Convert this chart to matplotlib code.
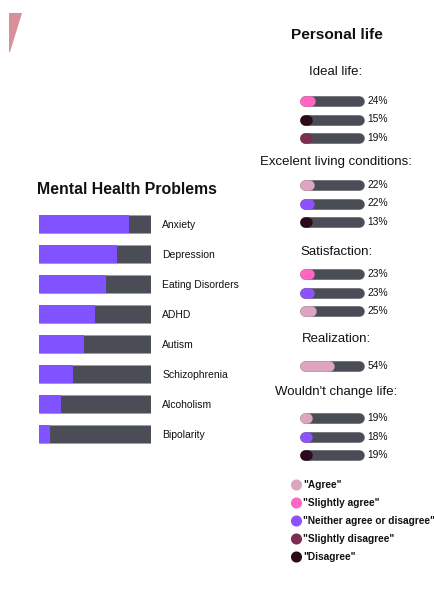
import matplotlib
matplotlib.use("Agg")
import matplotlib.pyplot as plt
from matplotlib.patches import Polygon

plt.rcParams["font.family"] = ["Liberation Sans", "DejaVu Sans"]

W, H = 435, 592

# ---- data ----
problems = ["Anxiety", "Depression", "Eating Disorders", "ADHD", "Autism",
            "Schizophrenia", "Alcoholism", "Bipolarity"]
problem_share = [80, 70, 60, 50, 40, 30, 20, 10]

answers = ['"Agree"', '"Slightly agree"', '"Neither agree or disagree"',
           '"Slightly disagree"', '"Disagree"']
answer_colors = ["#dea5c0", "#ff66c4", "#8c52ff", "#7b2d52", "#2d0a19"]

groups = ["Ideal life:", "Excelent living conditions:", "Satisfaction:",
          "Realization:", "Wouldn't change life:"]
group_answers = [[1, 4, 3], [0, 2, 4], [1, 2, 0], [0], [0, 2, 4]]
group_values = [[24, 15, 19], [22, 22, 13], [23, 23, 25], [54], [19, 18, 19]]

# layout (pixels)
header_y = [72, 162, 252, 339, 392]
first_row_y = [101, 185, 274, 366, 418]
ROW = 18.5

PURPLE = "#8152ff"
GRAY = "#4a4d55"
TXT = "#111111"


def box(x0, y0, x1, y1):
    return [x0 / W, 1 - y1 / H, (x1 - x0) / W, (y1 - y0) / H]


fig = plt.figure(figsize=(W / 100, H / 100), dpi=100)
fig.patch.set_facecolor("white")

# decorative corner shape
fig.patches.append(Polygon([(9 / W, 1 - 13 / H), (22 / W, 1 - 13 / H),
                            (10 / W, 1 - 52 / H), (9 / W, 1 - 52 / H)],
                           closed=True, transform=fig.transFigure,
                           facecolor="#d9909d", edgecolor="none"))

# ---- left: mental health problems ----
ax = fig.add_axes(box(39, 209, 151, 449))
ypos = list(range(len(problems)))
ax.barh(ypos, [100] * len(problems), height=0.62, color=GRAY,
        edgecolor="#9a9ca3", linewidth=0.4)
ax.barh(ypos, problem_share, height=0.62, color=PURPLE, edgecolor="none")
ax.set_xlim(0, 100)
ax.set_ylim(len(problems) - 0.5, -0.5)
ax.yaxis.tick_right()
ax.set_yticks(ypos)
ax.set_yticklabels(problems, fontsize=7.5, color=TXT)
ax.tick_params(axis="y", length=0, pad=8)
ax.set_xticks([])
for s in ax.spines.values():
    s.set_visible(False)
fig.text(37 / W, 1 - 189 / H, "Mental Health Problems", fontsize=11.4,
         fontweight="bold", color=TXT, ha="left", va="center")

# ---- right: personal life ----
fig.text(337 / W, 1 - 35 / H, "Personal life", fontsize=11.1,
         fontweight="bold", color=TXT, ha="center", va="center")

bar_px = 10.5
lw = bar_px * 72 / 100
r = (bar_px / 2) / (64 / 100)  # cap radius in data units

for g, name in enumerate(groups):
    n = len(group_values[g])
    top = first_row_y[g] - ROW / 2
    bottom = first_row_y[g] + (n - 0.5) * ROW
    gax = fig.add_axes(box(300, top, 364, bottom))
    gax.set_xlim(0, 100)
    gax.set_ylim(n - 0.5, -0.5)
    gax.axis("off")
    for i, (a, v) in enumerate(zip(group_answers[g], group_values[g])):
        gax.plot([r, 100 - r], [i, i], color=GRAY, lw=lw,
                 solid_capstyle="round", clip_on=False, zorder=2)
        gax.plot([r, max(v - r, r + 2)], [i, i], color=answer_colors[a],
                 lw=lw, solid_capstyle="round", clip_on=False, zorder=3)
        gax.text(105, i, f"{v}%", fontsize=7.4, color=TXT, va="center",
                 ha="left", clip_on=False)
    fig.text(336 / W, 1 - header_y[g] / H, name, fontsize=9.5, color=TXT,
             ha="center", va="center")

# ---- legend ----
lax = fig.add_axes(box(290, 476, 435, 566))
lax.set_xlim(0, 145)
lax.set_ylim(len(answers) - 0.5, -0.5)
lax.axis("off")
for i, (lab, c) in enumerate(zip(answers, answer_colors)):
    lax.scatter([6.5], [i], s=64, color=c, edgecolors="none", clip_on=False)
    lax.text(13, i, lab, fontsize=7.3, fontweight="bold", color=TXT,
             va="center", ha="left", clip_on=False)

fig.savefig("out.png", dpi=100, facecolor="white")
